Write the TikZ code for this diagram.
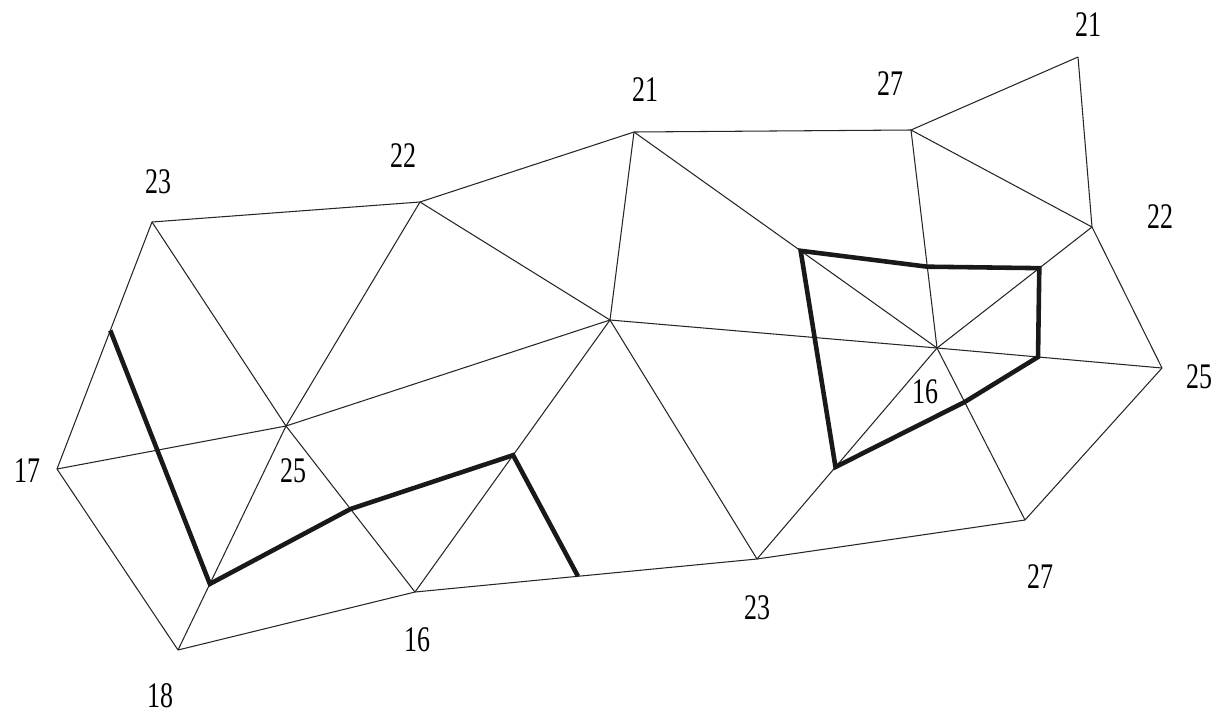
\documentclass[tikz,border=0pt]{standalone}
\usepackage{fontspec}
\newfontfamily\labfont[FakeStretch=0.72]{Liberation Serif}
\usetikzlibrary{calc}
\tikzset{
  edge/.style={draw=black!85, line width=0.6pt},
  contour/.style={draw=black!90, line width=2.6pt, line join=miter},
  lab/.style={font=\labfont\fontsize{20.5pt}{20.5pt}\selectfont, inner sep=0pt, anchor=center}
}
\begin{document}
\begin{tikzpicture}[x=0.02cm, y=-0.02cm]
\useasboundingbox (0,0) rectangle (1217,714);
% vertices
\coordinate (A) at (152,222);
\coordinate (B) at (420,202);
\coordinate (C) at (634,132);
\coordinate (D) at (911,130);
\coordinate (E) at (1078,57);
\coordinate (F) at (1092,227);
\coordinate (G) at (1162,368);
\coordinate (H) at (1025,520);
\coordinate (I) at (757,559);
\coordinate (J) at (415,592);
\coordinate (K) at (178,650);
\coordinate (L) at (57,469);
\coordinate (M) at (286,426);
\coordinate (N) at (610,320);
\coordinate (O) at (937,348);
% edges
\foreach \p/\q in {A/B,B/C,C/D,D/E,E/F,F/G,G/H,H/I,I/J,J/K,K/L,L/A,
  A/M,B/M,B/N,C/N,C/O,D/O,D/F,F/O,N/O,O/G,O/H,O/I,N/I,N/J,M/N,L/M,M/K,M/J}
  \draw[edge] (\p) -- (\q);
% contour points
\coordinate (P1) at ($(A)!0.439!(L)$);
\coordinate (P2) at ($(M)!0.705!(K)$);
\coordinate (P3) at ($(M)!0.5!(J)$);
\coordinate (P4) at ($(N)!0.497!(J)$);
\coordinate (P5) at ($(J)!0.4766!(I)$);
\coordinate (Q1) at ($(C)!0.55!(O)$);
\coordinate (Q2) at ($(D)!0.627!(O)$);
\coordinate (Q3) at ($(F)!0.34!(O)$);
\coordinate (Q4) at ($(O)!0.449!(G)$);
\coordinate (Q5) at ($(O)!0.314!(H)$);
\coordinate (Q6) at ($(O)!0.564!(I)$);
\draw[contour] (P1) -- (P2) -- (P3) -- (P4) -- (P5);
\draw[contour] (Q1) -- (Q2) -- (Q3) -- (Q4) -- (Q5) -- (Q6) -- cycle;
% labels
\node[lab] (lA) at (158,182) {23};
\node[lab] (lB) at (403,156) {22};
\node[lab] (lC) at (645,90) {21};
\node[lab] (lD) at (890,84) {27};
\node[lab] (lE) at (1088,25) {21};
\node[lab] (lF) at (1160,217) {22};
\node[lab] (lG) at (1199,377) {25};
\node[lab] (lH) at (1040,577) {27};
\node[lab] (lI) at (757,608) {23};
\node[lab] (lJ) at (417,640) {16};
\node[lab] (lK) at (160,696) {18};
\node[lab] (lL) at (27,471) {17};
\node[lab] (lM) at (293,471) {25};
\node[lab] (lO) at (925,392) {16};
\end{tikzpicture}
\end{document}
